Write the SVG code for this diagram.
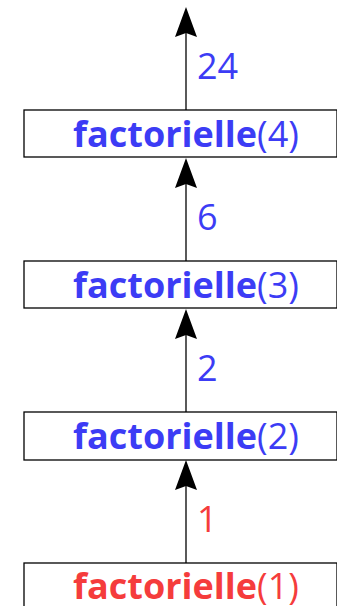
<svg xmlns="http://www.w3.org/2000/svg" width="337" height="606" viewBox="0 0 337 606">
<style>
.box{fill:#fff;stroke:#000;stroke-width:1.3}
.lbl{font-family:"Open Sans","Liberation Sans",sans-serif;font-size:36px;text-anchor:middle}
.fn{font-weight:bold}
.blue{fill:#3c3cf5}
.red{fill:#f53c3c}
.num{font-family:"Open Sans","Liberation Sans",sans-serif;font-size:36px}
.conn line{stroke:#000;stroke-width:1.3}
</style>
<defs>
<path id="ah" d="M0,0 L11,30 L0,26 L-11,30 Z" fill="#000"/>
</defs>
<rect width="337" height="606" fill="#fff"/>
<g id="connectors" class="conn">
<line x1="186" y1="110" x2="186" y2="30"/>
<use href="#ah" x="186" y="7"/>
<line x1="186" y1="261" x2="186" y2="180"/>
<use href="#ah" x="186" y="158"/>
<line x1="186" y1="412" x2="186" y2="330"/>
<use href="#ah" x="186" y="309"/>
<line x1="186" y1="563" x2="186" y2="482"/>
<use href="#ah" x="186" y="460"/>
<text class="num blue" x="197" y="79">24</text>
<text class="num blue" x="197" y="230">6</text>
<text class="num blue" x="197" y="381">2</text>
<text class="num red" x="197" y="532">1</text>
</g>
<g id="node4">
<rect class="box" x="24" y="110" width="313" height="47"/>
<text class="lbl blue" x="186" y="147"><tspan class="fn">factorielle</tspan>(4)</text>
</g>
<g id="node3">
<rect class="box" x="24" y="261" width="313" height="47"/>
<text class="lbl blue" x="186" y="298"><tspan class="fn">factorielle</tspan>(3)</text>
</g>
<g id="node2">
<rect class="box" x="24" y="412" width="313" height="48"/>
<text class="lbl blue" x="186" y="449"><tspan class="fn">factorielle</tspan>(2)</text>
</g>
<g id="node1">
<rect class="box" x="24" y="563" width="313" height="60"/>
<text class="lbl red" x="186" y="599"><tspan class="fn">factorielle</tspan>(1)</text>
</g>
</svg>
